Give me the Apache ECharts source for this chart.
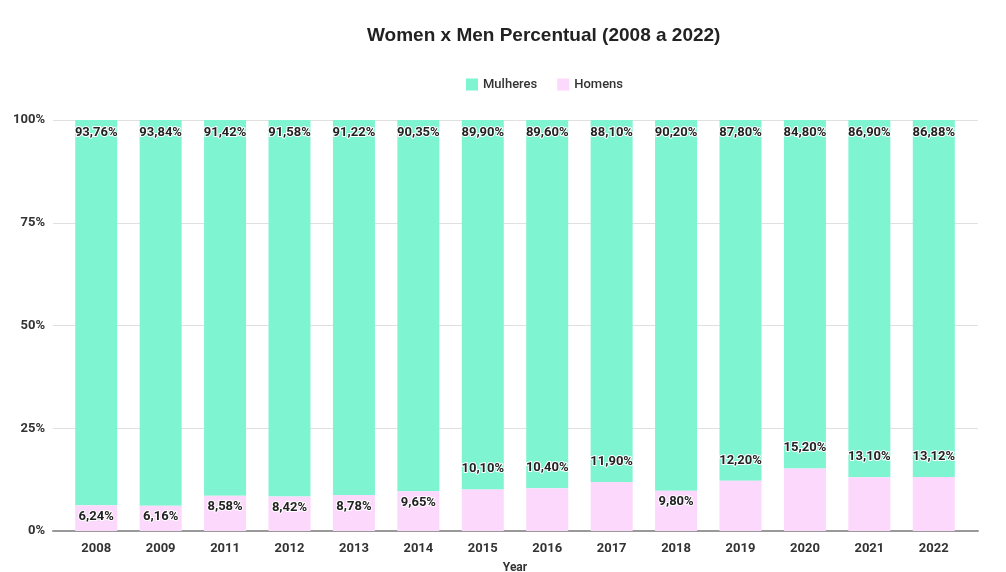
<!DOCTYPE html>
<html>
<head>
<meta charset="utf-8">
<title>Women x Men Percentual</title>
<script src="https://cdn.jsdelivr.net/npm/echarts@6/dist/echarts.min.js"></script>
<style>
  html, body { margin: 0; padding: 0; background: #fff; }
  #chart { width: 1006px; height: 572px; }
</style>
</head>
<body>
<div id="chart"></div>
<script>
  // dados
  const years = ['2008', '2009', '2011', '2012', '2013', '2014', '2015', '2016', '2017', '2018', '2019', '2020', '2021', '2022'];
  const mulheres = [93.76, 93.84, 91.42, 91.58, 91.22, 90.35, 89.90, 89.60, 88.10, 90.20, 87.80, 84.80, 86.90, 86.88];
  const homens = [6.24, 6.16, 8.58, 8.42, 8.78, 9.65, 10.10, 10.40, 11.90, 9.80, 12.20, 15.20, 13.10, 13.12];
  const yTicks = [0, 25, 50, 75, 100];

  const fmt = function (v) {
    return v.toFixed(2).replace('.', ',') + '%';
  };

  const labelStyle = {
    show: true,
    color: '#222',
    fontFamily: 'Roboto',
    fontSize: 13,
    fontWeight: 'bold',
    textBorderColor: '#fff',
    textBorderWidth: 2
  };

  const myEcharts = echarts.init(document.getElementById('chart'));
  const options = {
    animation: false,
    title: {
      text: 'Women x Men Percentual (2008 a 2022)',
      left: 362,
      top: 21,
      textStyle: {
        fontFamily: 'Liberation Sans',
        fontSize: 19,
        fontWeight: 'bold',
        color: '#222'
      }
    },
    legend: {
      data: ['Mulheres', 'Homens'],
      left: 461,
      top: 73,
      itemWidth: 12,
      itemHeight: 12,
      itemGap: 20,
      icon: 'rect',
      textStyle: {
        fontFamily: 'Roboto',
        fontSize: 13,
        fontWeight: 500,
        color: '#333'
      }
    },
    grid: [
      // grade de fundo (linhas e eixo mais largos)
      { left: 53, right: 28, top: 120, bottom: 41, outerBoundsMode: 'none' },
      // grade das barras
      { left: 64, right: 40, top: 120, bottom: 41, outerBoundsMode: 'none' }
    ],
    xAxis: [{
      type: 'category',
      gridIndex: 0,
      data: years,
      axisLine: { show: true, lineStyle: { color: '#999', width: 2 } },
      axisTick: { show: false },
      axisLabel: { show: false },
      splitLine: { show: false }
    }, {
      type: 'category',
      gridIndex: 1,
      data: years,
      name: 'Year',
      nameLocation: 'middle',
      nameGap: 31,
      nameTextStyle: {
        fontFamily: 'Roboto',
        fontSize: 12,
        fontWeight: 'bold',
        color: '#333'
      },
      axisLine: { show: false },
      axisTick: { show: false },
      axisLabel: {
        margin: 11,
        fontFamily: 'Roboto',
        fontSize: 13,
        fontWeight: 'bold',
        color: '#333'
      }
    }],
    yAxis: [{
      type: 'value',
      gridIndex: 0,
      min: yTicks[0],
      max: yTicks[yTicks.length - 1],
      interval: 25,
      axisLine: { show: false },
      axisTick: { show: false },
      splitLine: { show: true, lineStyle: { color: '#e0e0e0', width: 1 } },
      axisLabel: {
        margin: 8,
        fontFamily: 'Roboto',
        fontSize: 13,
        fontWeight: 'bold',
        color: '#333',
        formatter: '{value}%'
      }
    }, {
      type: 'value',
      gridIndex: 1,
      min: 0,
      max: 100,
      show: false
    }],
    series: [{
      name: 'Homens',
      type: 'bar',
      stack: 'total',
      xAxisIndex: 1,
      yAxisIndex: 1,
      barWidth: 42,
      itemStyle: { color: '#fcd8fc' },
      // rótulo dentro da barra se < 10, senão acima
      data: homens.map(function (v) {
        return {
          value: v,
          label: v < 10
            ? { position: 'insideTop', distance: 5 }
            : { position: 'top', distance: 14 }
        };
      }),
      label: Object.assign({}, labelStyle, {
        formatter: function (p) { return fmt(p.value); }
      }),
      z: 3
    }, {
      name: 'Mulheres',
      type: 'bar',
      stack: 'total',
      xAxisIndex: 1,
      yAxisIndex: 1,
      barWidth: 42,
      itemStyle: { color: '#7ef5d0' },
      data: mulheres,
      label: Object.assign({}, labelStyle, {
        position: 'insideTop',
        distance: 6,
        formatter: function (p) { return fmt(p.value); }
      }),
      z: 2
    }]
  };
  myEcharts.setOption(options, true);
  window.addEventListener('resize', function () {
    myEcharts.resize();
  });
</script>
</body>
</html>
